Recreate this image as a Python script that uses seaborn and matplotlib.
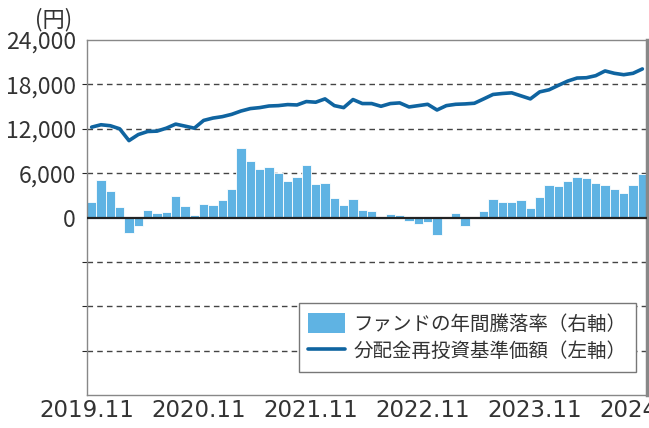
import numpy as np
import pandas as pd
import matplotlib
matplotlib.use("Agg")
import matplotlib.pyplot as plt
from matplotlib.patches import Patch
from matplotlib.lines import Line2D
import seaborn as sns

# ファンドの年間騰落率（%）2019.11～2024.10 の月次
returns = [8.6, 21.0, 14.8, 5.8, -8.6, -4.7, 4.1, 2.4, 3.0, 12.0, 6.4, 1.3,
           7.5, 6.9, 9.8, 16.0, 39.0, 31.8, 27.3, 28.4, 25.0, 20.5, 22.8, 29.5,
           18.8, 19.4, 10.9, 6.9, 10.3, 4.1, 3.6, -0.8, 1.9, 1.3, -1.7, -3.9,
           -2.3, -9.6, 0.2, 2.4, -4.5, 0.2, 3.4, 10.7, 8.5, 8.5, 9.6, 5.6,
           11.3, 18.6, 17.5, 20.3, 22.6, 22.0, 19.2, 18.6, 15.8, 14.1, 18.1, 24.8]

# 分配金再投資基準価額（円）
nav = [12220, 12545, 12410, 12000, 10400, 11220, 11630, 11680, 12080, 12630, 12360, 12080,
       13130, 13450, 13640, 13950, 14400, 14730, 14860, 15080, 15130, 15270, 15220, 15680,
       15590, 16040, 15130, 14860, 15950, 15410, 15410, 15040, 15410, 15500, 14950, 15130,
       15310, 14540, 15130, 15310, 15360, 15450, 16040, 16640, 16770, 16860, 16450, 16040,
       16990, 17270, 17870, 18450, 18860, 18900, 19180, 19820, 19500, 19310, 19500, 20090]

x_labels = ['2019.11', '2020.11', '2021.11', '2022.11', '2023.11', '2024.11']
yen_ticks = [0, 6000, 12000, 18000, 24000]

bar_color = '#5fb3e3'
line_color = '#0f64a0'
text_color = '#333333'

sns.set_style('white')
plt.rcParams['font.family'] = ['Noto Sans CJK JP', 'DejaVu Sans']

fig = plt.figure(figsize=(6.49, 4.28), dpi=100)
ax = fig.add_axes([0.134, 0.077, 0.863, 0.8295])

idx = np.arange(len(returns))
sns.barplot(x=idx, y=returns, ax=ax, color=bar_color, saturation=1,
            width=1, edgecolor='white', linewidth=0.6, zorder=2)
ax.set_ylim(-100, 100)
ax.set_yticks([-75, -50, -25, 25, 50, 75])
ax.tick_params(axis='y', left=False, right=False, labelleft=False)
ax.grid(axis='y', ls=(0, (4, 3)), color='#444444', lw=1)
ax.set_axisbelow(True)
ax.axhline(0, color='#222222', lw=1.6, zorder=3)

ax.set_xlim(-0.5, len(returns) - 0.5)
ax.set_xticks(np.arange(-0.5, len(returns), 12))
ax.set_xticklabels(x_labels, family='DejaVu Sans')
ax.tick_params(axis='x', direction='in', length=7, width=1, color='#888888',
               labelsize=16.5, labelcolor=text_color, pad=3)
ax.set_xlabel('')
for s in ax.spines.values():
    s.set_color('#888888')
    s.set_linewidth(1)
ax.spines['right'].set_linewidth(2.5)

ax2 = ax.twinx()
sns.lineplot(x=idx, y=nav, ax=ax2, color=line_color, lw=2.6, zorder=4)
ax2.set_ylim(-24000, 24000)
ax2.yaxis.tick_left()
ax2.yaxis.set_label_position('left')
ax2.set_yticks(yen_ticks)
ax2.set_yticklabels([f'{v:,}' for v in yen_ticks])
ax2.tick_params(axis='y', length=0, pad=8, labelsize=16.5, labelcolor=text_color)
for s in ax2.spines.values():
    s.set_visible(False)

handles = [Patch(facecolor=bar_color, edgecolor='none'),
           Line2D([], [], color=line_color, lw=2.6)]
leg = ax2.legend(handles, ['ファンドの年間騰落率（右軸）', '分配金再投資基準価額（左軸）'],
                 loc='lower right', bbox_to_anchor=(0.98, 0.065), fontsize=14,
                 frameon=True, fancybox=False, framealpha=1, edgecolor='#777777',
                 handlelength=1.9, handleheight=1.25, labelspacing=0.3,
                 borderpad=0.5, handletextpad=0.4, borderaxespad=0)
for t in leg.get_texts():
    t.set_color(text_color)

fig.text(0.082, 0.955, '(円)', fontsize=16, color=text_color, ha='center', va='center')

fig.savefig('out.png', dpi=100)
